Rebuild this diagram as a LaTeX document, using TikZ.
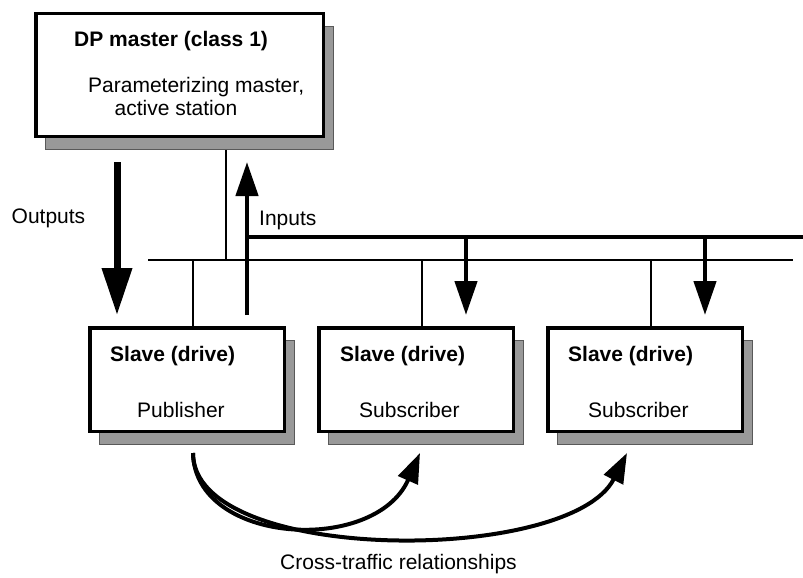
\documentclass[tikz,border=0pt]{standalone}
\usepackage{fontspec}
\setmainfont{Liberation Sans}
\usetikzlibrary{arrows.meta,shadows,backgrounds}

\begin{document}
\begin{tikzpicture}[x=1pt, y=-1pt,
  every node/.style={font=\fontsize{21}{22.5}\selectfont},
  box/.style={draw, line width=3.5pt, fill=white, rectangle, inner sep=0pt,
              drop shadow={shadow xshift=10pt, shadow yshift=-13pt, fill=black!40,
                           draw=black!65, line width=1pt, opacity=1}},
  master/.style={box, minimum width=287.5pt, minimum height=122.5pt},
  slave/.style={box, minimum width=194.5pt, minimum height=103.5pt},
  txt/.style={anchor=west, inner sep=0pt, align=left},
  hd/.style={txt, font=\fontsize{21}{22.5}\selectfont\bfseries},
  wire/.style={line width=1.5pt},
  bus/.style={line width=4.5pt},
  ar/.style={line width=4.5pt, -{Triangle[length=34pt,width=22pt]}},
  bigar/.style={line width=7pt, -{Triangle[length=47pt,width=29pt]}},
  curv/.style={line width=4pt, -{Triangle[length=30pt,width=21pt]}}]

\useasboundingbox (0,0) rectangle (803,578);

%% ---- MASTER ----
\node[master] (DPM)  at (179.5,75) {};
\node[hd]     (DPMt) at (74,41.5)  {DP master (class 1)};
\node[txt]    (DPMs) at (88,96.5)  {Parameterizing master,\\\hspace*{26.5pt}active station};

%% ---- SLAVES ----
\node[slave] (S1) at (187,379.5) {};
\node[slave] (S2) at (416,379.5) {};
\node[slave] (S3) at (645,379.5) {};
\node[hd]  (S1t) at (110,356) {Slave (drive)};
\node[hd]  (S2t) at (340,356) {Slave (drive)};
\node[hd]  (S3t) at (568,356) {Slave (drive)};
\node[txt] (S1s) at (137,410) {Publisher};
\node[txt] (S2s) at (359,410) {Subscriber};
\node[txt] (S3s) at (588,410) {Subscriber};

%% ---- labels ----
\node[txt] (OUT) at (11.5,218.5) {Outputs};
\node[txt] (INP) at (259,220)    {Inputs};
\node[txt] (CTR) at (280,564)    {Cross-traffic relationships};

%% ---- bus points ----
\coordinate (busW)  at (148,260);
\coordinate (busE)  at (793,260);
\coordinate (mDrop) at (226,260);
\coordinate (d1)    at (193,260);
\coordinate (d2)    at (422,260);
\coordinate (d3)    at (651,260);
\coordinate (hbW)   at (247,237);
\coordinate (hbE)   at (803,237);
\coordinate (t2)    at (466,237);
\coordinate (t3)    at (705,237);

%% --- thin bus + drops ---
\begin{scope}[on background layer]
  \draw[wire] (busW) -- (busE);
  \draw[wire] (DPM.south -| mDrop) -- (mDrop);
  \draw[wire] (d1) -- (d1 |- S1.north);
  \draw[wire] (d2) -- (d2 |- S2.north);
  \draw[wire] (d3) -- (d3 |- S3.north);
\end{scope}

%% --- outputs / inputs ---
\coordinate (outA) at (117,162);
\coordinate (outB) at (117,315);
\coordinate (inA)  at (247,315);
\coordinate (inB)  at (247,162);
\coordinate (s2In) at (466,315);
\coordinate (s3In) at (705,315);
\draw[bigar] (outA) -- (outB);
\draw[ar] (inA) -- (inB);
\draw[bus] (hbW) -- (hbE);
\draw[ar] (t2) -- (s2In);
\draw[ar] (t3) -- (s3In);

%% --- cross traffic ---
\coordinate (ctA) at (193,453);
\coordinate (ctB) at (420,453);
\coordinate (ctC) at (627,453);
\draw[curv] (ctA) .. controls (195,545) and (375,555) .. (ctB);
\draw[curv] (ctA) .. controls (193,565) and (570,565) .. (ctC);
\end{tikzpicture}
\end{document}
